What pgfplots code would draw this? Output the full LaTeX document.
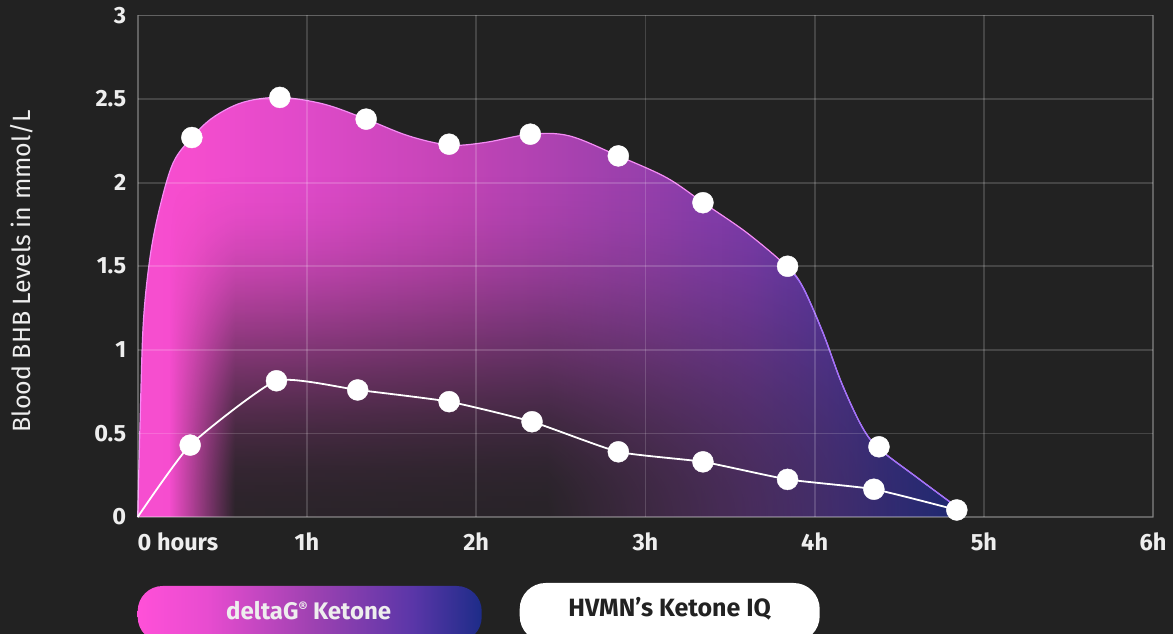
\documentclass[border=0pt]{standalone}
\usepackage{fontspec}
\setmainfont{Fira Sans}
\usepackage{pgfplots}
\pgfplotsset{compat=1.18}
\usetikzlibrary{fadings}

\definecolor{bg}{HTML}{222222}
\definecolor{txt}{HTML}{EEEEEE}
\definecolor{c0}{HTML}{FF50D8}
\definecolor{c1}{HTML}{FF4FD6}
\definecolor{c2}{HTML}{E84CD0}
\definecolor{c3}{HTML}{C846BC}
\definecolor{c4}{HTML}{A042B2}
\definecolor{c5}{HTML}{7E3CB0}
\definecolor{c6}{HTML}{5A36A8}
\definecolor{c7}{HTML}{3A309A}
\definecolor{c8}{HTML}{1D2C88}
\definecolor{edgec}{HTML}{F58CF5}
\definecolor{edgeb}{HTML}{9C72FF}

\pgfdeclarehorizontalshading{pinkblue}{100bp}{color(0bp)=(c0); color(25bp)=(c0); color(28bp)=(c1); color(35bp)=(c2); color(45bp)=(c3); color(55bp)=(c4); color(62.5bp)=(c5); color(67.5bp)=(c6); color(71bp)=(c7); color(75bp)=(c8); color(100bp)=(c8)}
\pgfdeclarehorizontalshading{pillshade}{100bp}{color(0bp)=(c0); color(25bp)=(c0); color(35bp)=(c2); color(50bp)=(c4); color(65bp)=(c6); color(75bp)=(c8); color(100bp)=(c8)}
\pgfdeclarefunctionalshading{darkfun}{\pgfpoint{-50bp}{-50bp}}{\pgfpoint{50bp}{50bp}}{}{
  exch 25 add 50 div
  dup 0.04 sub 0.08 div dup 0 lt {pop 0} if dup 1 gt {pop 1} if
  exch 0.5 sub 0.5 div dup 0 lt {pop 0} if dup 1 gt {pop 1} if 0.8 mul 1 exch sub
  mul
  exch 25 add 50 div 1.2 mul dup 0 lt {pop 0} if dup 1 gt {pop 1} if
  180 mul cos 1 add 2 div
  mul
  dup dup
}

\pgfplotstableread{
x y
0 0
0.014 0.56
0.033 1.16
0.073 1.555
0.13 1.85
0.21 2.12
0.32 2.27
0.445 2.39
0.62 2.48
0.84 2.51
1.10 2.47
1.35 2.38
1.60 2.28
1.84 2.225
2.05 2.24
2.32 2.29
2.55 2.28
2.84 2.16
3.125 2.03
3.345 1.878
3.60 1.70
3.84 1.495
3.93 1.376
4.05 1.10
4.16 0.80
4.28 0.54
4.38 0.41
4.60 0.24
4.84 0.06
}\outline

\pgfplotstableread{
x y
3.84 1.495
3.93 1.376
4.05 1.10
4.16 0.80
4.28 0.54
4.38 0.41
4.60 0.24
4.84 0.06
}\outlineright

\pgfplotstableread{
x y
0.32 2.27
0.84 2.51
1.35 2.38
1.84 2.23
2.32 2.29
2.84 2.16
3.34 1.88
3.84 1.50
4.38 0.42
}\deltag

\pgfplotstableread{
x y
0 0
0.31 0.43
0.82 0.815
1.30 0.76
1.84 0.69
2.33 0.57
2.84 0.39
3.34 0.33
3.84 0.225
4.35 0.166
4.84 0.042
}\hvmn

\pgfplotstableread{
x y
0.31 0.43
0.82 0.815
1.30 0.76
1.84 0.69
2.33 0.57
2.84 0.39
3.34 0.33
3.84 0.225
4.35 0.166
4.84 0.042
}\hvmnmarks

\begin{document}
\begin{tikzfadingfrompicture}[name=darkfade]
  \fill[transparent!100] (-50bp,-50bp) rectangle (50bp,50bp);
  \shade[shading=darkfun] (-25bp,-25bp) rectangle (25bp,25bp);
\end{tikzfadingfrompicture}%
\begin{tikzpicture}
\useasboundingbox (-137.7pt,-117pt) rectangle (1035.3pt,517pt);
\fill[bg] (-137.7pt,-117pt) rectangle (1035.3pt,517pt);
\begin{axis}[
  at={(0,0)}, anchor=south west,
  scale only axis, width=1015.5pt, height=501.5pt,
  xmin=0, xmax=6, ymin=0, ymax=3,
  xtick={0,1,2,3,4,5,6},
  xticklabels={\rlap{0 hours},1h,2h,3h,4h,5h,6h},
  ytick={0,0.5,1,1.5,2,2.5,3},
  yticklabels={0,0.5,1,1.5,2,2.5,3},
  major tick length=0pt,
  grid=major,
  grid style={white, opacity=0.16, line width=1.8pt},
  axis line style={white, opacity=0.16, line width=1.8pt},
  axis on top,
  tick label style={text=txt, font=\bfseries\fontsize{23.5}{26}\selectfont},
  xticklabel style={yshift=-12pt},
  yticklabel style={xshift=-8pt},
  clip=false,
]
\addplot[draw=none, shading=pinkblue, fill opacity=0.96, smooth, tension=0.55] table {\outline} \closedcycle;
\addplot[draw=none, fill=bg, fill opacity=0.95, path fading=darkfade, fit fading=true, smooth, tension=0.55] table {\outline} \closedcycle;
\addplot[edgec, line width=1.2pt, smooth, tension=0.55] table {\outline};
\addplot[edgeb, line width=1.2pt, smooth, tension=0.55] table {\outlineright};
\addplot[white, line width=1.8pt, smooth, tension=0.3] table {\hvmn};
\addplot[white, only marks, mark=*, mark size=10.5pt, mark options={fill=white, draw=white}] table {\hvmnmarks};
\addplot[white, only marks, mark=*, mark size=10.5pt, mark options={fill=white, draw=white}] table {\deltag};
\end{axis}
\node[rotate=90, text=txt, font=\fontsize{25}{28}\selectfont] at (-115.7pt,246pt) {Blood BHB Levels in mmol/L};
\shade[shading=pillshade, rounded corners=25pt] (0pt,-69pt) rectangle (344pt,-125pt);
\node[text=txt, font=\bfseries\fontsize{24}{28}\selectfont] at (171pt,-94pt) {deltaG{\fontsize{14}{14}\selectfont\raisebox{7pt}{®}} Ketone};
\fill[white, rounded corners=26pt] (382pt,-66pt) rectangle (682pt,-125pt);
\node[text=bg, font=\bfseries\fontsize{25}{28}\selectfont] at (532pt,-92pt) {HVMN’s Ketone IQ};
\end{tikzpicture}
\end{document}
